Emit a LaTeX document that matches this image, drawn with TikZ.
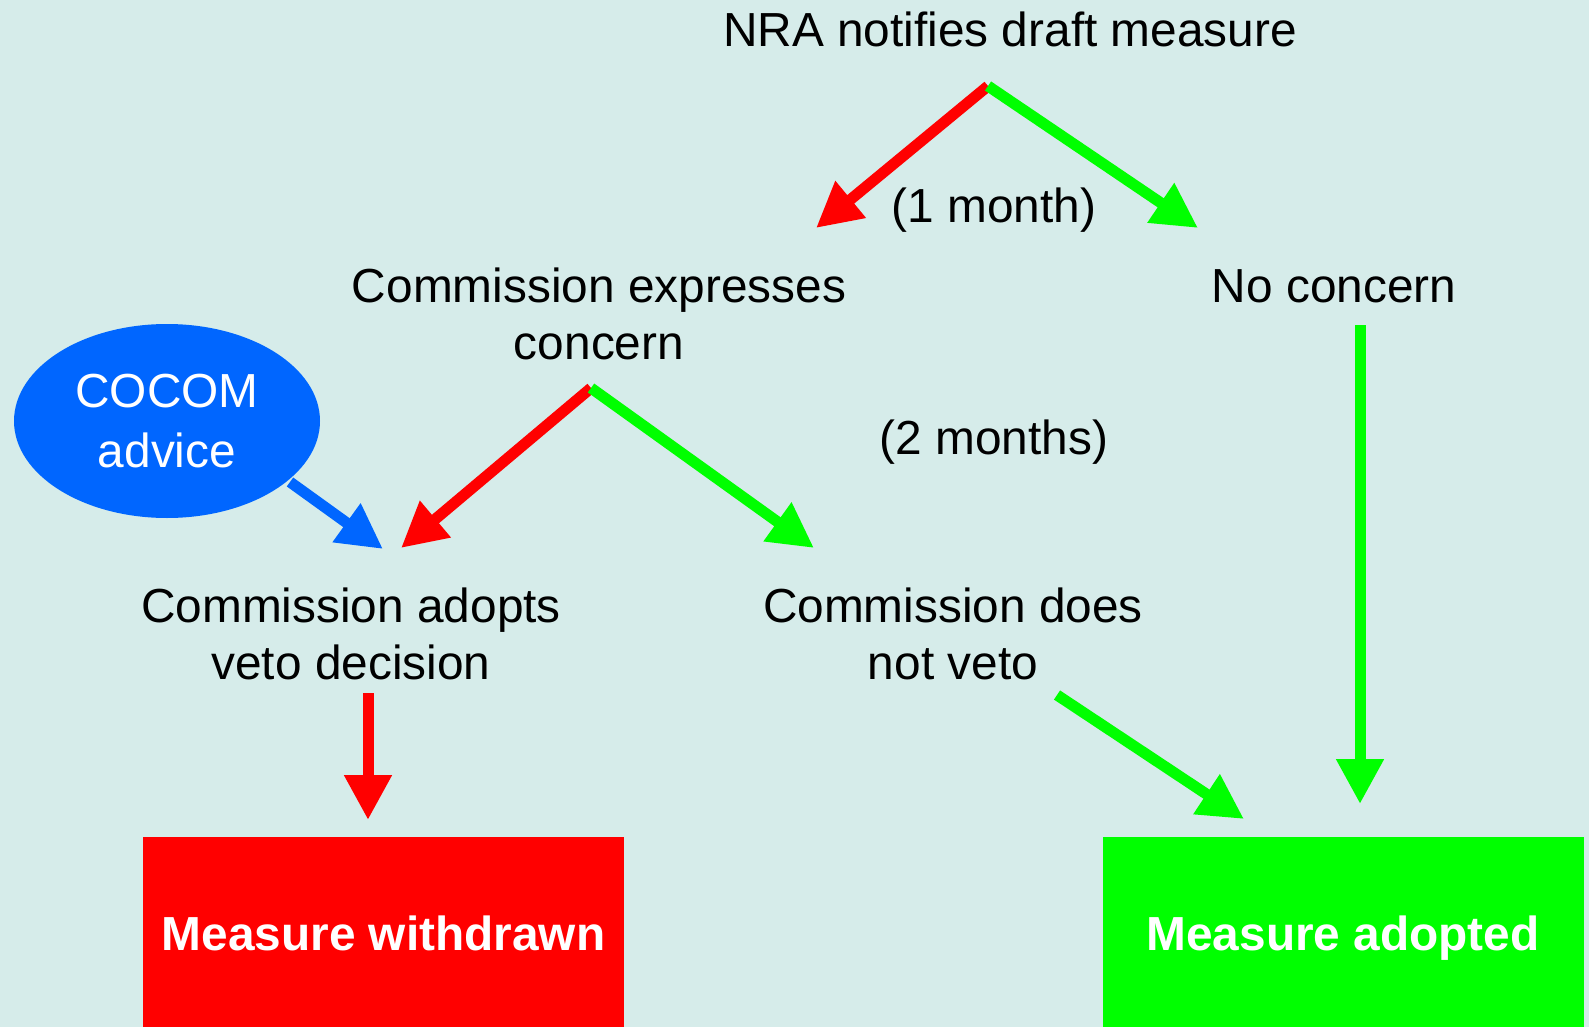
\documentclass[tikz,border=0pt]{standalone}
\usepackage{fontspec}
\setmainfont{Liberation Sans}
\usetikzlibrary{arrows.meta,shapes.geometric}
\definecolor{bg}{RGB}{214,236,234}
\definecolor{myred}{RGB}{255,0,0}
\definecolor{mygreen}{RGB}{0,255,0}
\definecolor{myblue}{RGB}{0,102,255}
\begin{document}
\begin{tikzpicture}[x=0.5pt,y=-0.5pt,
  lbl/.style={font=\fontsize{23.9}{28.5}\selectfont, align=center, inner sep=0pt, text=black},
  outcome/.style={font=\fontsize{23.9}{28.5}\selectfont\bfseries, text=white, inner sep=0pt,
    text depth=0pt, minimum width=240.5pt, minimum height=96pt, draw=none},
  conn/.style={line width=5.5pt, -{Triangle[length=22.5pt,width=22.5pt]}},
  redc/.style={conn, draw=myred, fill=myred},
  greenc/.style={conn, draw=mygreen, fill=mygreen},
  bluec/.style={conn, draw=myblue, fill=myblue}]
\fill[bg] (0,0) rectangle (1589,1027);
\useasboundingbox (0,0) rectangle (1589,1027);

% text nodes
\node[lbl] (nra) at (1010,29) {NRA notifies draft measure};
\node[lbl] (month1) at (994,210) {(1 month)};
\node[lbl] (cexp) at (599,314) {Commission expresses\\concern};
\node[lbl] (nocon) at (1334,286) {No concern};
\node[lbl] (month2) at (994,442) {(2 months)};
\node[lbl] (adopt) at (351,634) {Commission adopts\\veto decision};
\node[lbl] (noveto) at (953,634) {Commission does\\not veto};
\node[ellipse, fill=myblue, minimum width=153pt, minimum height=97pt, inner sep=0pt,
  text=white, align=center, font=\fontsize{23.9}{30}\selectfont] (cocom) at (167,421) {COCOM\\advice};
\node[outcome, fill=myred] (withdrawn) at (383.5,933) {Measure withdrawn};
\node[outcome, fill=mygreen] (adopted) at (1343,933) {Measure adopted};

% connector end points
\coordinate (nra-out) at (988,86);
\coordinate (cexp-in) at (816,228);
\coordinate (nocon-in) at (1198,228);
\coordinate (cexp-out) at (591,388);
\coordinate (adopt-in) at (401,548);
\coordinate (noveto-in) at (814,548);
\coordinate (cocom-out) at (290,482);
\coordinate (adopt-in2) at (383,549);
\coordinate (adopt-out) at (368,693);
\coordinate (withdrawn-in) at (368,820);
\coordinate (noveto-out) at (1057,695);
\coordinate (adopted-in1) at (1244,819);
\coordinate (nocon-out) at (1360,325);
\coordinate (adopted-in2) at (1360,804);

% connectors
\draw[redc] (nra-out) -- (cexp-in);
\draw[greenc] (nra-out) -- (nocon-in);
\draw[redc] (cexp-out) -- (adopt-in);
\draw[greenc] (cexp-out) -- (noveto-in);
\draw[bluec] (cocom-out) -- (adopt-in2);
\draw[redc] (adopt-out) -- (withdrawn-in);
\draw[greenc] (noveto-out) -- (adopted-in1);
\draw[greenc] (nocon-out) -- (adopted-in2);
\end{tikzpicture}
\end{document}
